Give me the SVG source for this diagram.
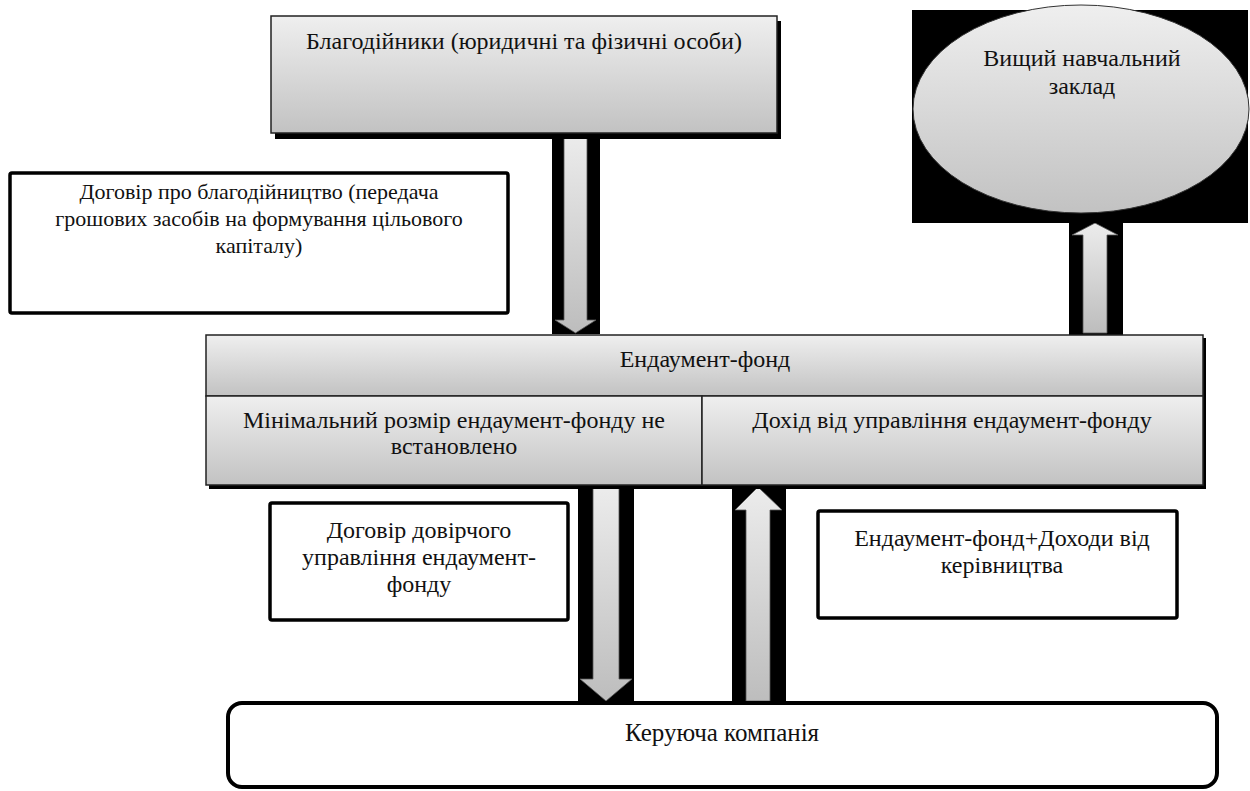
<svg xmlns="http://www.w3.org/2000/svg" width="1250" height="791" viewBox="0 0 1250 791" font-family="'Liberation Serif','Times New Roman',serif">
<style>
text{font-family:'Liberation Serif','Times New Roman',Tinos,serif;font-size:24px;fill:#111;text-anchor:middle}
.sm{font-size:22px}
.lg{font-size:25px}
.g{fill:url(#grad);stroke:#222;stroke-width:1.5}
.lbl{fill:#fff;stroke:#000;stroke-width:3.5}
.blk{fill:#000}
.arr{fill:url(#agrad);stroke:#555;stroke-width:0.8}
</style>
<defs>
<linearGradient id="grad" x1="0" y1="0" x2="0" y2="1">
<stop offset="0" stop-color="#efefef"/>
<stop offset="1" stop-color="#c2c2c2"/>
</linearGradient>
<linearGradient id="agrad" x1="0" y1="0" x2="0" y2="1">
<stop offset="0" stop-color="#ececec"/>
<stop offset="1" stop-color="#bdbdbd"/>
</linearGradient>
</defs>

<g id="connectors">
<g id="arrow-donors-fund">
<rect class="blk" x="552" y="133" width="48" height="201"/>
<polygon class="arr" points="564,134 587,134 587,320 596,320 575.5,333 555,320 564,320"/>
</g>
<g id="arrow-fund-university">
<rect class="blk" x="1069" y="222" width="54" height="118"/>
<polygon class="arr" points="1083,333 1107,333 1107,235 1118,235 1095,223 1072,235 1083,235"/>
</g>
<g id="arrow-fund-company">
<rect class="blk" x="578" y="485" width="56" height="217"/>
<polygon class="arr" points="593,486 619,486 619,679 632,679 606,701 580,679 593,679"/>
</g>
<g id="arrow-company-fund">
<rect class="blk" x="732" y="485" width="54" height="217"/>
<polygon class="arr" points="746,701 770,701 770,510 782,510 758,487 735,510 746,510"/>
</g>
</g>

<g id="donors">
<rect class="blk" x="275" y="21" width="506" height="118"/>
<rect class="g" x="271" y="16" width="506" height="117" stroke="#555"/>
<text x="524" y="49">Благодійники (юридичні та фізичні особи)</text>
</g>

<g id="university">
<rect class="blk" x="912" y="10" width="336" height="213"/>
<ellipse cx="1081" cy="109" rx="168" ry="104" fill="url(#grad)" stroke="#333" stroke-width="1"/>
<text x="1082" y="66">Вищий навчальний</text>
<text x="1082" y="94">заклад</text>
</g>

<g id="charity-contract">
<rect class="lbl" x="10" y="173" width="498" height="140" rx="2"/>
<text class="sm" x="259" y="199">Договір про благодійництво (передача</text>
<text class="sm" x="259" y="226">грошових засобів на формування цільового</text>
<text class="sm" x="259" y="253">капіталу)</text>
</g>

<g id="endowment-fund">
<rect class="blk" x="209" y="338" width="997" height="151"/>
<rect class="g" x="206" y="335" width="997" height="61"/>
<rect class="g" x="206" y="396" width="496" height="89"/>
<rect class="g" x="702" y="396" width="501" height="89"/>
<text x="705" y="367">Ендаумент-фонд</text>
<text x="454" y="428">Мінімальний розмір ендаумент-фонду не</text>
<text x="454" y="454">встановлено</text>
<text x="952" y="428">Дохід від управління ендаумент-фонду</text>
</g>

<g id="trust-contract">
<rect class="lbl" x="270" y="503" width="298" height="117" rx="2"/>
<text x="419" y="538">Договір довірчого</text>
<text x="419" y="565">управління ендаумент-</text>
<text x="419" y="592">фонду</text>
</g>

<g id="income">
<rect class="lbl" x="818" y="511" width="359" height="107" rx="2"/>
<text x="1002" y="546">Ендаумент-фонд+Доходи від</text>
<text x="1002" y="573">керівництва</text>
</g>

<g id="company">
<rect x="228" y="703" width="989" height="84" rx="14" fill="#fff" stroke="#000" stroke-width="4"/>
<text class="lg" x="722" y="741">Керуюча компанія</text>
</g>
</svg>
